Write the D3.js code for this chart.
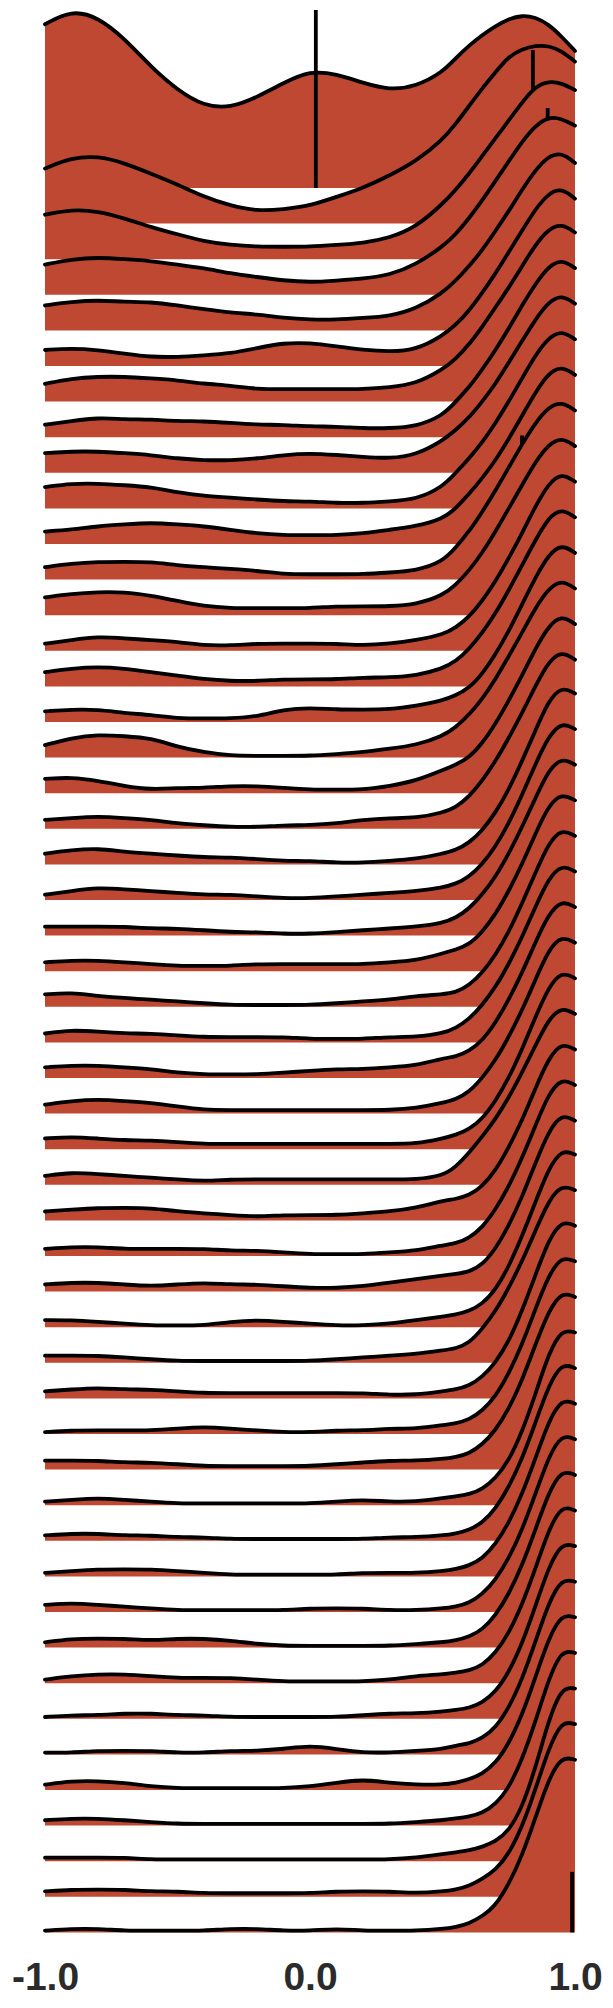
<!DOCTYPE html>
<html><head><meta charset="utf-8">
<script src="https://cdn.jsdelivr.net/npm/d3@7"></script>
<style>html,body{margin:0;padding:0;background:#fff;} svg{display:block;}</style>
</head><body>
<svg id="chart" width="613" height="2008"></svg>
<script>
// x positions at which each ridge's (max-normalised, %) density was read
const xGrid = [-1,-0.9,-0.8,-0.7,-0.6,-0.5,-0.4,-0.3,-0.2,-0.1,0,0.1,0.2,0.3,0.4,0.5,0.55,0.6,0.65,0.7,0.75,0.8,0.85,0.9,0.95,1];
const tickValues = [-1, 0, 1];
const tickLabels = ["-1.0", "0.0", "1.0"];

const ridges = [
[92,100,96,84,68,55,46,45,51,59,66,64,59,55,57,65,73,80,86,91,95,97,96,92,85,77],
[31,37,38,34,28,22,15,10,7,8,10,15,20,27,35,47,56,66,76,85,94,98,100,100,97,91],
[25,28,27,23,18,14,10,8,7,7,7,8,9,12,18,31,39,48,58,68,78,88,97,100,99,95],
[17,20,21,20,19,17,15,12,10,8,7,8,9,11,17,27,34,43,53,64,75,86,95,100,99,95],
[14,16,17,16,16,14,12,10,9,7,6,6,7,8,12,21,28,36,45,56,67,79,90,98,100,94],
[9,10,9,7,5,5,6,7,10,13,13,11,9,8,9,17,23,31,41,52,64,76,88,97,100,94],
[10,13,14,14,13,12,10,9,7,7,7,7,7,8,10,18,24,32,42,53,64,76,88,97,100,95],
[7,9,11,10,10,9,9,8,7,7,6,6,5,5,6,12,20,28,38,49,61,74,86,96,100,95],
[11,12,12,11,10,8,7,7,8,10,11,10,9,8,10,18,24,31,40,50,62,74,86,96,100,95],
[12,14,14,13,12,9,7,6,5,4,4,3,3,4,5,12,20,28,37,48,60,73,86,96,100,95],
[7,8,10,11,12,11,10,8,6,5,5,5,6,8,10,14,20,28,37,47,59,72,85,96,100,95],
[7,9,10,10,10,8,7,6,5,3,3,3,3,4,5,10,18,27,38,50,63,76,88,97,100,95],
[10,12,13,13,11,8,5,4,4,4,4,5,5,5,6,11,17,25,35,47,60,73,86,96,100,95],
[4,6,8,7,6,5,3,3,4,4,4,4,3,4,6,9,13,19,28,39,52,66,81,94,100,95],
[8,10,11,10,8,6,4,3,3,4,4,4,5,5,6,10,14,21,30,41,54,68,82,95,100,95],
[6,7,7,5,4,2,2,2,3,7,8,7,7,7,9,12,15,19,27,38,51,66,81,94,100,95],
[7,11,13,12,11,6,3,1,1,1,1,2,3,5,7,12,17,24,33,44,57,70,84,95,100,95],
[8,9,7,4,2,3,3,4,4,3,2,2,2,4,7,13,16,20,28,39,52,66,81,94,100,95],
[5,6,7,6,5,3,2,1,1,2,2,3,5,6,6,9,12,18,27,38,51,65,80,94,100,95],
[6,8,9,7,6,5,4,4,3,2,2,1,1,2,3,6,8,12,19,29,42,58,75,92,100,96],
[3,5,7,6,5,4,3,3,2,1,1,2,3,4,5,7,9,13,20,30,43,59,76,92,100,96],
[5,5,5,5,4,4,3,2,2,1,1,2,3,4,5,7,10,15,23,33,46,61,77,93,100,96],
[5,6,6,5,4,3,3,3,4,4,4,4,4,5,6,10,12,15,22,32,45,60,77,93,100,96],
[7,8,6,5,4,3,2,1,1,1,1,2,3,4,6,7,8,12,19,29,42,58,75,92,100,96],
[5,7,6,5,5,4,3,3,3,3,2,2,2,3,3,5,8,13,21,31,44,59,76,92,100,96],
[6,7,7,6,5,3,2,2,2,3,4,5,5,6,7,11,12,15,21,31,44,59,76,92,100,96],
[5,7,8,7,6,4,2,2,2,2,2,2,2,2,3,6,8,12,20,30,43,58,75,92,100,96],
[6,7,6,5,5,4,3,3,3,3,3,3,3,3,3,6,8,11,17,27,40,56,74,91,100,96],
[5,7,6,5,4,3,2,3,3,3,3,3,3,3,3,5,10,18,27,37,49,63,78,93,100,96],
[5,6,7,7,7,5,4,3,2,3,3,3,4,5,7,11,12,14,19,28,41,56,74,91,100,96],
[4,5,5,4,4,4,4,3,3,2,1,1,1,2,3,6,7,10,16,26,39,55,73,91,100,96],
[4,5,5,4,3,4,5,4,4,3,2,2,3,5,7,9,10,11,15,24,37,53,72,90,100,96],
[4,4,3,2,1,1,1,3,4,3,2,1,1,2,4,6,7,9,13,21,34,51,70,89,100,97],
[4,4,4,3,2,1,1,1,1,1,1,2,3,4,5,7,8,11,19,29,42,57,74,91,100,97],
[4,5,6,5,5,4,3,3,3,3,3,3,3,2,2,4,5,7,12,20,32,49,69,89,100,97],
[1,2,2,2,2,3,4,3,2,1,1,2,2,3,3,5,6,8,13,21,34,50,70,89,100,97],
[5,5,5,4,4,3,2,2,2,2,2,3,4,5,5,6,7,9,14,22,34,50,70,89,100,97],
[2,3,4,3,2,1,1,1,1,1,1,2,3,2,2,4,5,6,9,15,25,41,62,85,99,97],
[3,4,4,3,3,2,2,1,1,1,1,1,1,2,2,3,4,6,10,18,30,46,66,87,100,97],
[2,3,4,4,4,3,2,1,1,1,1,1,2,2,2,3,4,6,10,18,30,46,66,87,100,97],
[4,5,4,3,2,1,1,1,1,1,2,2,2,1,1,2,3,5,10,18,30,46,66,87,100,97],
[3,5,5,5,4,5,5,4,2,1,1,1,1,1,2,3,4,6,10,18,30,46,66,87,100,97],
[2,4,5,5,4,3,3,3,2,1,1,1,1,2,4,5,6,7,10,17,28,44,64,86,100,97],
[1,2,2,3,3,2,2,1,1,1,1,1,2,3,3,4,5,6,9,15,26,42,63,85,99,97],
[1,1,2,2,2,1,1,2,2,3,5,3,1,1,2,3,5,6,9,15,26,42,63,85,99,97],
[3,5,5,4,2,1,1,1,1,1,2,4,6,4,3,3,4,6,9,15,26,42,63,85,99,97],
[3,4,4,3,2,1,1,1,1,1,1,1,1,1,2,3,4,5,7,12,21,37,58,82,99,97],
[2,2,2,2,1,1,1,1,1,1,1,1,1,1,2,4,5,6,8,11,17,30,52,79,98,97],
[3,4,4,4,3,3,2,2,2,2,2,3,3,3,2,3,4,6,10,15,24,39,60,83,99,97],
[1,2,2,1,1,1,1,2,2,1,1,2,1,1,1,2,3,5,9,15,27,43,64,86,99,97]
];

// vertical marker rules (row index, x value, height in % of ridge max)
const markerRows = [0, 1, 2, 5, 10, 49];
const markerX    = [0.022, 0.841, 0.897, 0.776, 0.80, 0.989];
const markerH    = [100, 97.5, 85, 48, 61, 34];

const svg = d3.select("#chart");
const x = d3.scaleLinear().domain([-1, 1]).range([45, 575]);
const base = d3.scaleLinear().domain([0, ridges.length - 1]).range([188, 1932.4]);
const h = d3.scaleLinear().domain([0, 100]).range([0, 178]);

const curve = d3.curveBasis;
const area = d3.area()
  .x((d, i) => x(xGrid[i]))
  .y0(0)
  .y1(d => -h(d))
  .curve(curve);
const line = d3.line()
  .x((d, i) => x(xGrid[i]))
  .y(d => -h(d))
  .curve(curve);

const fillColor = "#bf4833";

ridges.forEach((vals, i) => {
  const g = svg.append("g").attr("transform", `translate(0,${base(i)})`);
  g.append("path").attr("d", area(vals)).attr("fill", fillColor);
  g.append("path").attr("d", line(vals))
    .attr("fill", "none").attr("stroke", "#000")
    .attr("stroke-width", 3.8).attr("stroke-linecap", "round").attr("stroke-linejoin", "round");
  const m = markerRows.indexOf(i);
  if (m >= 0) {
    g.append("line")
      .attr("x1", x(markerX[m])).attr("x2", x(markerX[m]))
      .attr("y1", 0).attr("y2", -h(markerH[m]))
      .attr("stroke", "#000").attr("stroke-width", 3.8);
  }
});

const axis = d3.axisBottom(x)
  .tickValues(tickValues)
  .tickFormat((d, i) => tickLabels[i])
  .tickSize(0);
const ax = svg.append("g").attr("transform", "translate(0,1990)").call(axis);
ax.select(".domain").remove();
ax.selectAll("text")
  .attr("y", 0).attr("dy", 0)
  .attr("font-family", "'Liberation Sans', Arial, sans-serif")
  .attr("font-weight", "bold")
  .attr("font-size", 39)
  .attr("fill", "#2b2b2b");
</script>
</body></html>
